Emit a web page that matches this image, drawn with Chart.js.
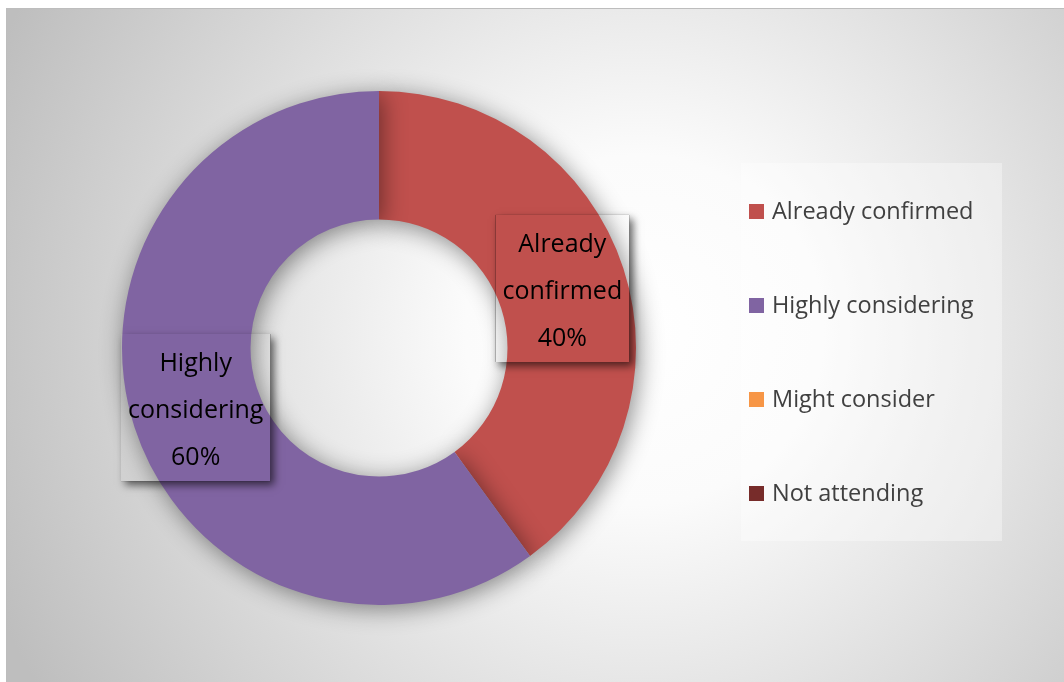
<!DOCTYPE html>
<html>
<head>
<meta charset="utf-8">
<script src="https://cdn.jsdelivr.net/npm/chart.js@4"></script>
<style>
  html, body { margin: 0; padding: 0; background: #fff; }
  #wrap { width: 1064px; height: 682px; }
</style>
</head>
<body>
<div id="wrap"><canvas id="attendChart" width="1064" height="682"></canvas></div>
<script>
// Attendance doughnut
const categories = ['Already confirmed', 'Highly considering', 'Might consider', 'Not attending'];
const shares = [40, 60, 0, 0];
const sliceColors = ['#C0504D', '#8064A2', '#F79646', '#772C2A'];

const FONT = '"Open Sans", "Noto Sans", sans-serif';

// gray radial backdrop behind everything
const backdrop = {
  id: 'backdrop',
  beforeDraw(chart) {
    const ctx = chart.ctx;
    const w = chart.width, h = chart.height;
    ctx.save();
    ctx.fillStyle = '#ffffff';
    ctx.fillRect(0, 0, w, h);
    const g = ctx.createRadialGradient(640, 330, 0, 640, 330, 700);
    g.addColorStop(0, '#ffffff');
    g.addColorStop(0.25, '#fbfbfb');
    g.addColorStop(1, '#bebebe');
    ctx.fillStyle = g;
    ctx.fillRect(6, 8, w - 6, h - 8);
    ctx.fillStyle = '#bdbdbd';
    ctx.fillRect(6, 8, w - 6, 1);
    ctx.fillRect(6, 8, 1, h - 8);
    ctx.restore();
  },
};

// soft shadow under the ring
const ringShadow = {
  id: 'ringShadow',
  beforeDatasetsDraw(chart) {
    const ctx = chart.ctx;
    ctx.save();
    ctx.shadowColor = 'rgba(0, 0, 0, 0.45)';
    ctx.shadowBlur = 24;
    ctx.shadowOffsetX = 3;
    ctx.shadowOffsetY = 4;
  },
  afterDatasetsDraw(chart) {
    chart.ctx.restore();
  },
};

// data labels: category name + percent, with a shadowed frame
const sliceLabels = {
  id: 'sliceLabels',
  afterDatasetsDraw(chart) {
    const ctx = chart.ctx;
    const meta = chart.getDatasetMeta(0);
    const total = shares.reduce((a, b) => a + b, 0);
    ctx.save();
    ctx.font = '25px ' + FONT;
    meta.data.forEach((arc, i) => {
      if (!shares[i]) return;
      const pos = arc.tooltipPosition();
      const lines = categories[i].split(' ');
      lines.push(Math.round((shares[i] / total) * 100) + '%');
      const lh = 47;
      const tw = Math.max(...lines.map((l) => ctx.measureText(l).width));
      const bw = tw + 14;
      const bh = lines.length * lh + 6;
      const bx = pos.x - bw / 2;
      const by = pos.y - bh / 2;

      // shadow only outside the frame
      ctx.save();
      ctx.beginPath();
      ctx.rect(0, 0, chart.width, chart.height);
      ctx.rect(bx, by, bw, bh);
      ctx.clip('evenodd');
      ctx.shadowColor = 'rgba(0, 0, 0, 0.6)';
      ctx.shadowBlur = 8;
      ctx.shadowOffsetX = 4;
      ctx.shadowOffsetY = 4;
      ctx.fillStyle = '#000';
      ctx.fillRect(bx, by, bw, bh);
      ctx.restore();

      ctx.fillStyle = '#000';
      ctx.textAlign = 'center';
      ctx.textBaseline = 'middle';
      lines.forEach((l, k) => {
        ctx.fillText(l, pos.x, by + 30 + k * lh);
      });
    });
    ctx.restore();
  },
};

// legend panel on the right
const sideLegend = {
  id: 'sideLegend',
  afterDraw(chart) {
    const ctx = chart.ctx;
    ctx.save();
    ctx.fillStyle = 'rgba(255, 255, 255, 0.35)';
    ctx.fillRect(741, 163, 261, 378);
    ctx.font = '23.5px ' + FONT;
    ctx.textBaseline = 'middle';
    ctx.textAlign = 'left';
    categories.forEach((name, i) => {
      const cy = 211 + i * 94;
      ctx.fillStyle = sliceColors[i];
      ctx.fillRect(749, cy - 7, 15, 15);
      ctx.fillStyle = '#404040';
      ctx.fillText(name, 772, cy + 1);
    });
    ctx.restore();
  },
};

new Chart(document.getElementById('attendChart'), {
  type: 'doughnut',
  data: {
    labels: categories,
    datasets: [
      {
        data: shares,
        backgroundColor: sliceColors,
        borderWidth: 0,
      },
    ],
  },
  options: {
    responsive: false,
    devicePixelRatio: 1,
    animation: false,
    cutout: '50%',
    layout: {
      padding: { left: 122, right: 428, top: 91, bottom: 77 },
    },
    plugins: {
      legend: { display: false },
      tooltip: { enabled: false },
    },
  },
  plugins: [backdrop, ringShadow, sliceLabels, sideLegend],
});
</script>
</body>
</html>
